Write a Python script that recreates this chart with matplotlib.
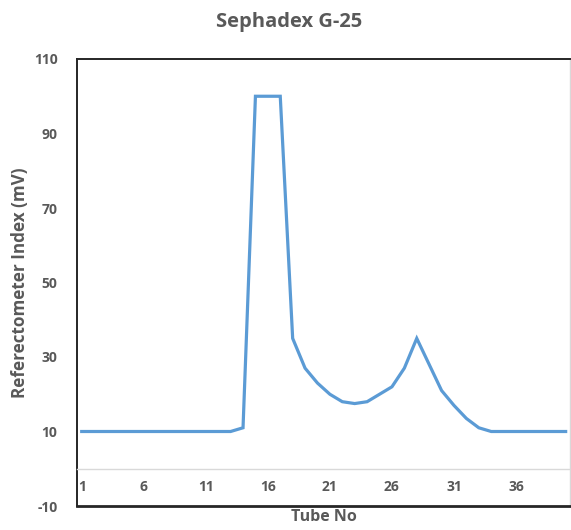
import matplotlib
matplotlib.use("Agg")
import matplotlib.pyplot as plt

tubes = list(range(1, 41))
values = [10, 10, 10, 10, 10, 10, 10, 10, 10, 10, 10, 10, 10,
          11, 100, 100, 100, 35, 27, 23, 20, 18, 17.5, 18, 20, 22, 27, 35,
          28, 21, 17, 13.5, 11, 10, 10, 10, 10, 10, 10, 10]
xtick_vals = [1, 6, 11, 16, 21, 26, 31, 36]
ytick_vals = [-10, 10, 30, 50, 70, 90, 110]

title = "Sephadex G-25"
ylabel = "Referectometer Index (mV)"
xlabel = "Tube No"

plt.rcParams['font.family'] = ['Open Sans', 'DejaVu Sans']
gray = "#595959"

fig = plt.figure(figsize=(5.71, 5.30), dpi=100)
ax = fig.add_axes([77/571, 1-506/530, (570-77)/571, (506-59)/530])

ax.plot(tubes, values, color="#5B9BD5", lw=2.3, solid_joinstyle='miter', zorder=3)

ax.set_xlim(0.62, 40.35)
ax.set_ylim(-10, 110)

ax.set_yticks(ytick_vals)
ax.set_yticklabels([str(v) for v in ytick_vals], fontsize=10, fontweight='bold', color=gray)
ax.tick_params(axis='y', length=0, pad=14)

ax.spines['bottom'].set_position(('data', 0))
ax.spines['bottom'].set_color('#d9d9d9')
ax.spines['bottom'].set_linewidth(1.0)
ax.spines['left'].set_color('#262626')
ax.spines['left'].set_linewidth(1.4)
ax.spines['top'].set_color('#262626')
ax.spines['top'].set_linewidth(1.4)
ax.spines['right'].set_color('#d9d9d9')
ax.spines['right'].set_linewidth(1.0)
ax.axhline(-10, color='#262626', lw=2.0, clip_on=False, zorder=4)

ax.set_xticks(xtick_vals)
ax.set_xticklabels([str(v) for v in xtick_vals], fontsize=10, fontweight='bold', color=gray)
ax.tick_params(axis='x', length=0, pad=8)

ax.set_ylabel(ylabel, fontsize=12.3, fontweight='bold', color=gray)
ax.yaxis.set_label_coords(-0.098, 0.5)
ax.set_xlabel(xlabel, fontsize=11.5, fontweight='bold', color=gray)
ax.xaxis.set_label_coords(0.5, -0.006)

fig.text(289/571, 1-22/530, title, fontsize=14.5, fontweight='bold', color=gray,
         ha='center', va='center')

fig.savefig("out.png", dpi=100)
